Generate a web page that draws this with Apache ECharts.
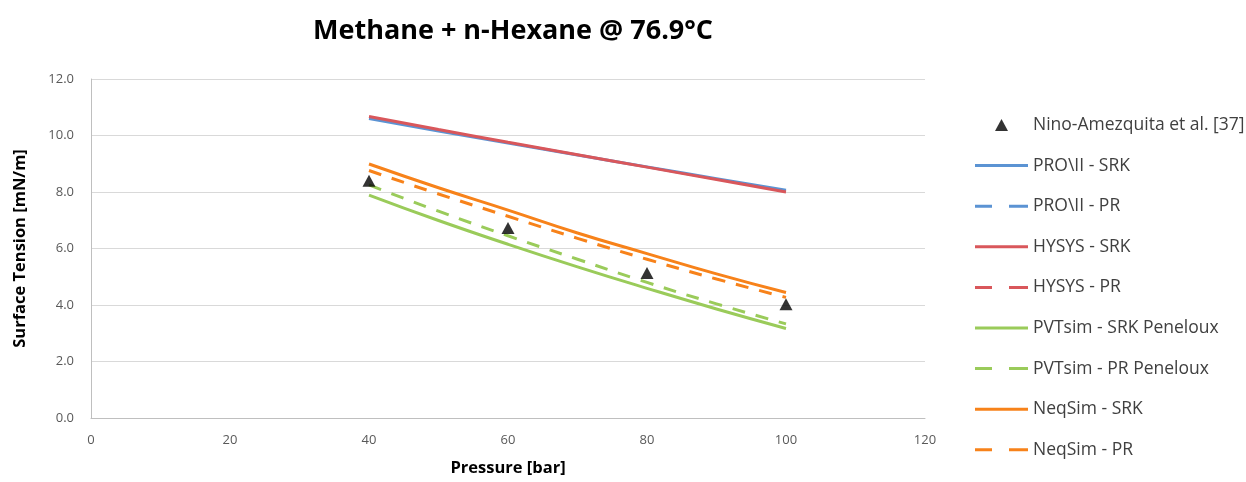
<!DOCTYPE html>
<html>
<head>
<meta charset="utf-8">
<script src="https://cdn.jsdelivr.net/npm/echarts@6/dist/echarts.min.js"></script>
<style>
  html, body { margin: 0; padding: 0; background: #fff; }
  #chart { width: 1246px; height: 482px; }
</style>
</head>
<body>
<div id="chart"></div>
<script>
// pressures (bar) the model curves were read at
var pressures = [40, 50, 60, 70, 80, 90, 100];

// measured points (Nino-Amezquita et al.)
var expPressure = [40, 60, 80, 100];
var expTension = [8.40, 6.73, 5.13, 4.03];

// model curves, surface tension in mN/m
var proIISrk = [10.60, 10.16, 9.73, 9.31, 8.89, 8.47, 8.06];
var proIIPr = [];
var hysysSrk = [10.67, 10.21, 9.76, 9.32, 8.88, 8.44, 8.00];
var hysysPr = [];
var pvtsimSrk = [7.89, 6.99, 6.15, 5.35, 4.59, 3.86, 3.17];
var pvtsimPr = [8.25, 7.32, 6.45, 5.62, 4.80, 4.04, 3.33];
var neqsimSrk = [8.99, 8.15, 7.36, 6.55, 5.82, 5.10, 4.44];
var neqsimPr = [8.76, 7.93, 7.14, 6.36, 5.62, 4.92, 4.27];

var blue = '#5b93d3', red = '#d9575b', green = '#9acb5a', orange = '#f7821a';

// legend icons drawn like the Excel legend keys
var solidKey = 'path://M0,0h53v3h-53z';
var dashKey = 'path://M0,0h17v3h-17z M34,0h19v3h-19z';
var triKey = 'path://M6.5,0L13,12L0,12Z';

function pairs(xs, ys) {
	var out = [];
	for (var i = 0; i < ys.length; i++) {
		out.push([xs[i], ys[i]]);
	}
	return out;
}

function curve(name, values, color, dashed) {
	return {
		name: name,
		type: 'line',
		data: pairs(pressures, values),
		symbol: 'none',
		smooth: true,
		lineStyle: { color: color, width: 3, type: dashed ? [13, 11] : 'solid' },
		itemStyle: { color: color },
		z: 2
	};
}

var chart = echarts.init(document.getElementById('chart'));

var option = {
	animation: false,
	title: {
		text: 'Methane + n-Hexane @ 76.9°C',
		left: 308,
		top: 13,
		textStyle: { fontFamily: 'Open Sans', fontSize: 27, fontWeight: 'bold', color: '#000' }
	},
	legend: {
		orient: 'vertical',
		left: 975,
		top: 116,
		padding: 0,
		itemWidth: 53,
		itemHeight: 12,
		itemGap: 22.6,
		textStyle: { fontFamily: 'Open Sans', fontSize: 17.5, color: '#404040' },
		data: [
			{ name: 'Nino-Amezquita et al. [37]', icon: triKey },
			{ name: 'PRO\\II - SRK', icon: solidKey },
			{ name: 'PRO\\II - PR', icon: dashKey },
			{ name: 'HYSYS - SRK', icon: solidKey },
			{ name: 'HYSYS - PR', icon: dashKey },
			{ name: 'PVTsim - SRK Peneloux', icon: solidKey },
			{ name: 'PVTsim - PR Peneloux', icon: dashKey },
			{ name: 'NeqSim - SRK', icon: solidKey },
			{ name: 'NeqSim - PR', icon: dashKey }
		]
	},
	grid: { left: 91, right: 321, top: 79, bottom: 64 },
	xAxis: {
		type: 'value',
		min: 0, max: 120, interval: 20,
		name: 'Pressure [bar]',
		nameLocation: 'middle',
		nameGap: 42,
		nameTextStyle: { fontFamily: 'Open Sans', fontSize: 16.5, fontWeight: 'bold', color: '#000' },
		axisLine: { lineStyle: { color: '#bfbfbf', width: 1 } },
		axisTick: { show: false },
		axisLabel: { margin: 16, fontFamily: 'Open Sans', fontSize: 13, color: '#595959' },
		splitLine: { show: false }
	},
	yAxis: {
		type: 'value',
		min: 0, max: 12, interval: 2,
		name: 'Surface Tension [mN/m]',
		nameLocation: 'middle',
		nameGap: 62,
		nameTextStyle: { fontFamily: 'Open Sans', fontSize: 16.5, fontWeight: 'bold', color: '#000' },
		axisLine: { show: true, lineStyle: { color: '#bfbfbf', width: 1 } },
		axisTick: { show: false },
		axisLabel: {
			margin: 17, fontFamily: 'Open Sans', fontSize: 13, color: '#595959',
			formatter: function (v) { return v.toFixed(1); }
		},
		splitLine: { lineStyle: { color: '#d9d9d9', width: 1 } }
	},
	series: [
		{
			name: 'Nino-Amezquita et al. [37]',
			type: 'scatter',
			data: pairs(expPressure, expTension),
			symbol: 'triangle',
			symbolSize: [13, 12],
			itemStyle: { color: '#000' },
			z: 5
		},
		curve('PRO\\II - SRK', proIISrk, blue, false),
		curve('PRO\\II - PR', proIIPr, blue, true),
		curve('HYSYS - SRK', hysysSrk, red, false),
		curve('HYSYS - PR', hysysPr, red, true),
		curve('PVTsim - SRK Peneloux', pvtsimSrk, green, false),
		curve('PVTsim - PR Peneloux', pvtsimPr, green, true),
		curve('NeqSim - SRK', neqsimSrk, orange, false),
		curve('NeqSim - PR', neqsimPr, orange, true)
	]
};

chart.setOption(option);
</script>
</body>
</html>
